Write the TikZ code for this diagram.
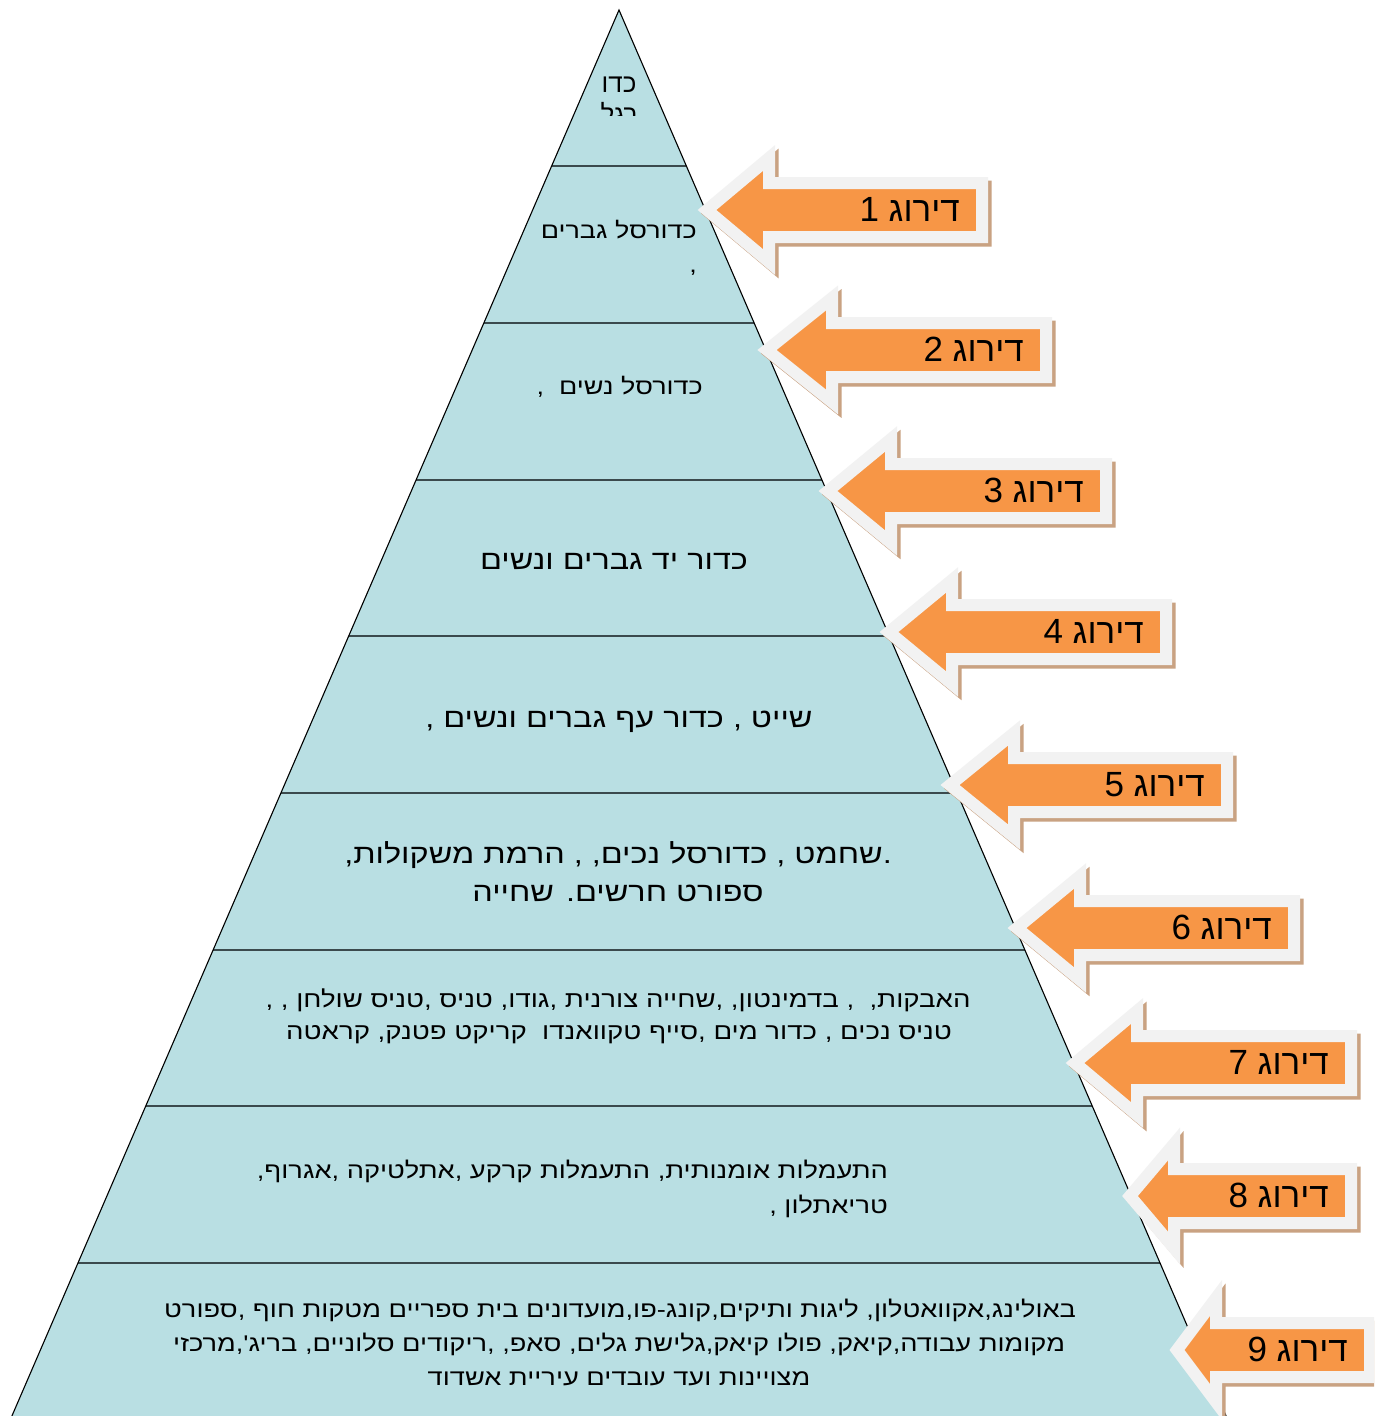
\documentclass[tikz,border=0pt]{standalone}
\usepackage{fontspec}
\setmainfont{Liberation Sans}
\newfontfamily\heb[Script=Hebrew]{Liberation Sans}
\newfontfamily\hebw[Script=Hebrew,FakeStretch=1.2]{Liberation Sans}
\TeXXeTstate=1
\definecolor{pyrfill}{HTML}{B9DFE3}
\definecolor{sepcol}{HTML}{3B4A4D}
\definecolor{arrorange}{HTML}{F79646}
\definecolor{arrborder}{HTML}{F2F2F2}
\definecolor{arrshadowcol}{HTML}{C9A282}
\newcommand\kk{0.4318}
\newcommand\sepat[2]{\draw[sepline] ({619-\kk*(#2-10)},#2) coordinate (#1w) -- ({619+\kk*(#2-10)},#2) coordinate (#1e);}
\newcommand\arrowshape[4]{(#1,#4) -- (#2,#4-52) -- (#2,#4-27) -- (#3,#4-27) -- (#3,#4+27) -- (#2,#4+27) -- (#2,#4+52) -- cycle}
% name, tip, headback, right, centre, label
\newcommand\blockarrow[6]{%
  \draw[arrshadow] [shift={(3.5,3.5)}] \arrowshape{#2}{#3}{#4}{#5};
  \draw[arrbody] \arrowshape{#2}{#3}{#4}{#5};
  \node[atext] (#1) at (#4-22,#5+11) {\heb #6};}
\begin{document}
\begin{tikzpicture}[x=1pt,y=-1pt,
  pyr/.style={fill=pyrfill},
  pyredge/.style={draw=black,line width=1.1pt},
  sepline/.style={draw=sepcol,line width=2.4pt},
  arrbody/.style={fill=arrorange,draw=arrborder,line width=12pt,line join=miter},
  arrshadow/.style={fill=arrshadowcol,draw=arrshadowcol,line width=12pt,line join=miter},
  atext/.style={anchor=base east,inner sep=0pt,font=\fontsize{35}{40}\selectfont},
  ptext/.style={anchor=base,inner sep=0pt},
  pr/.style={anchor=base east,inner sep=0pt}]
\useasboundingbox (0,0) rectangle (1374,1416);
\clip (0,0) rectangle (1374,1416);
\fill[white] (0,0) rectangle (1374,1416);
% pyramid
\coordinate (apex) at (619,10);
\coordinate (bl) at ({619-\kk*(1440-10)},1440);
\coordinate (br) at ({619+\kk*(1440-10)},1440);
\fill[pyr] (apex) -- (bl) -- (br) -- cycle;
\sepat{s1}{166}
\sepat{s2}{323}
\sepat{s3}{480}
\sepat{s4}{636}
\sepat{s5}{793}
\sepat{s6}{950}
\sepat{s7}{1106}
\sepat{s8}{1263}
\draw[pyredge] (bl) -- (apex) -- (br);
% level texts
\node[ptext,font=\fontsize{26}{30}\selectfont] (t1a) at (619,92) {\heb\beginR כדו\endR};
\begin{scope}
\clip (500,0) rectangle (740,115);
\node[ptext,font=\fontsize{26}{30}\selectfont] (t1b) at (619,123) {\heb\beginR רגל\endR};
\end{scope}
\node[pr,font=\fontsize{22.5}{26}\selectfont] (t2a) at (697,238) {\hebw\beginR כדורסל גברים\endR};
\node[pr,font=\fontsize{22.5}{26}\selectfont] (t2b) at (697,272) {\hebw\beginR ,\endR};
\node[pr,font=\fontsize{22.5}{26}\selectfont] (t3) at (703,394) {\hebw\beginR כדורסל נשים~~,\endR};
\node[ptext,font=\fontsize{27}{30}\selectfont] (t4) at (614,569) {\hebw\beginR כדור יד גברים ונשים\endR};
\node[ptext,font=\fontsize{27}{30}\selectfont] (t5) at (619,727) {\hebw\beginR שייט , כדור עף גברים ונשים ,\endR};
\node[ptext,font=\fontsize{27}{30}\selectfont] (t6a) at (618,863) {\hebw\beginR .שחמט , כדורסל נכים, , הרמת משקולות,\endR};
\node[ptext,font=\fontsize{27}{30}\selectfont] (t6b) at (618,901) {\hebw\beginR ספורט חרשים. שחייה\endR};
\node[ptext,font=\fontsize{23}{25}\selectfont] (t7a) at (618,1007) {\hebw\beginR האבקות,~~, בדמינטון, ,שחייה צורנית ,גודו, טניס ,טניס שולחן , ,\endR};
\node[ptext,font=\fontsize{23}{25}\selectfont] (t7b) at (619,1039) {\hebw\beginR טניס נכים , כדור מים ,סייף טקוואנדו~~קריקט פטנק, קראטה\endR};
\node[pr,font=\fontsize{22.7}{27}\selectfont] (t8a) at (888,1178) {\hebw\beginR התעמלות אומנותית, התעמלות קרקע ,אתלטיקה ,אגרוף,\endR};
\node[pr,font=\fontsize{22.7}{27}\selectfont] (t8b) at (888,1213) {\hebw\beginR טריאתלון ,\endR};
\node[ptext,font=\fontsize{22.7}{26}\selectfont] (t9a) at (620,1317) {\hebw\beginR באולינג,אקוואטלון, ליגות ותיקים,קונג-פו,מועדונים בית ספריים מטקות חוף ,ספורט\endR};
\node[ptext,font=\fontsize{22.7}{26}\selectfont] (t9b) at (619,1351) {\hebw\beginR מקומות עבודה,קיאק, פולו קיאק,גלישת גלים, סאפ, ,ריקודים סלוניים, בריג',מרכזי\endR};
\node[ptext,font=\fontsize{22.7}{26}\selectfont] (t9c) at (619,1385) {\hebw\beginR מצויינות ועד עובדים עיריית אשדוד\endR};
% arrows
\blockarrow{a1}{707}{769}{982}{210}{\beginR דירוג 1\endR}
\blockarrow{a2}{767}{832}{1046}{350}{\beginR דירוג 2\endR}
\blockarrow{a3}{828}{891}{1106}{491}{\beginR דירוג 3\endR}
\blockarrow{a4}{889}{952}{1166}{632}{\beginR דירוג 4\endR}
\blockarrow{a5}{950}{1014}{1227}{785}{\beginR דירוג 5\endR}
\blockarrow{a6}{1017}{1080}{1294}{928}{\beginR דירוג 6\endR}
\blockarrow{a7}{1075}{1137}{1351}{1063}{\beginR דירוג 7\endR}
\blockarrow{a8}{1130}{1174}{1351}{1196}{\beginR דירוג 8\endR}
\blockarrow{a9}{1177}{1216}{1370}{1350}{\beginR דירוג 9\endR}
\end{tikzpicture}
\end{document}
